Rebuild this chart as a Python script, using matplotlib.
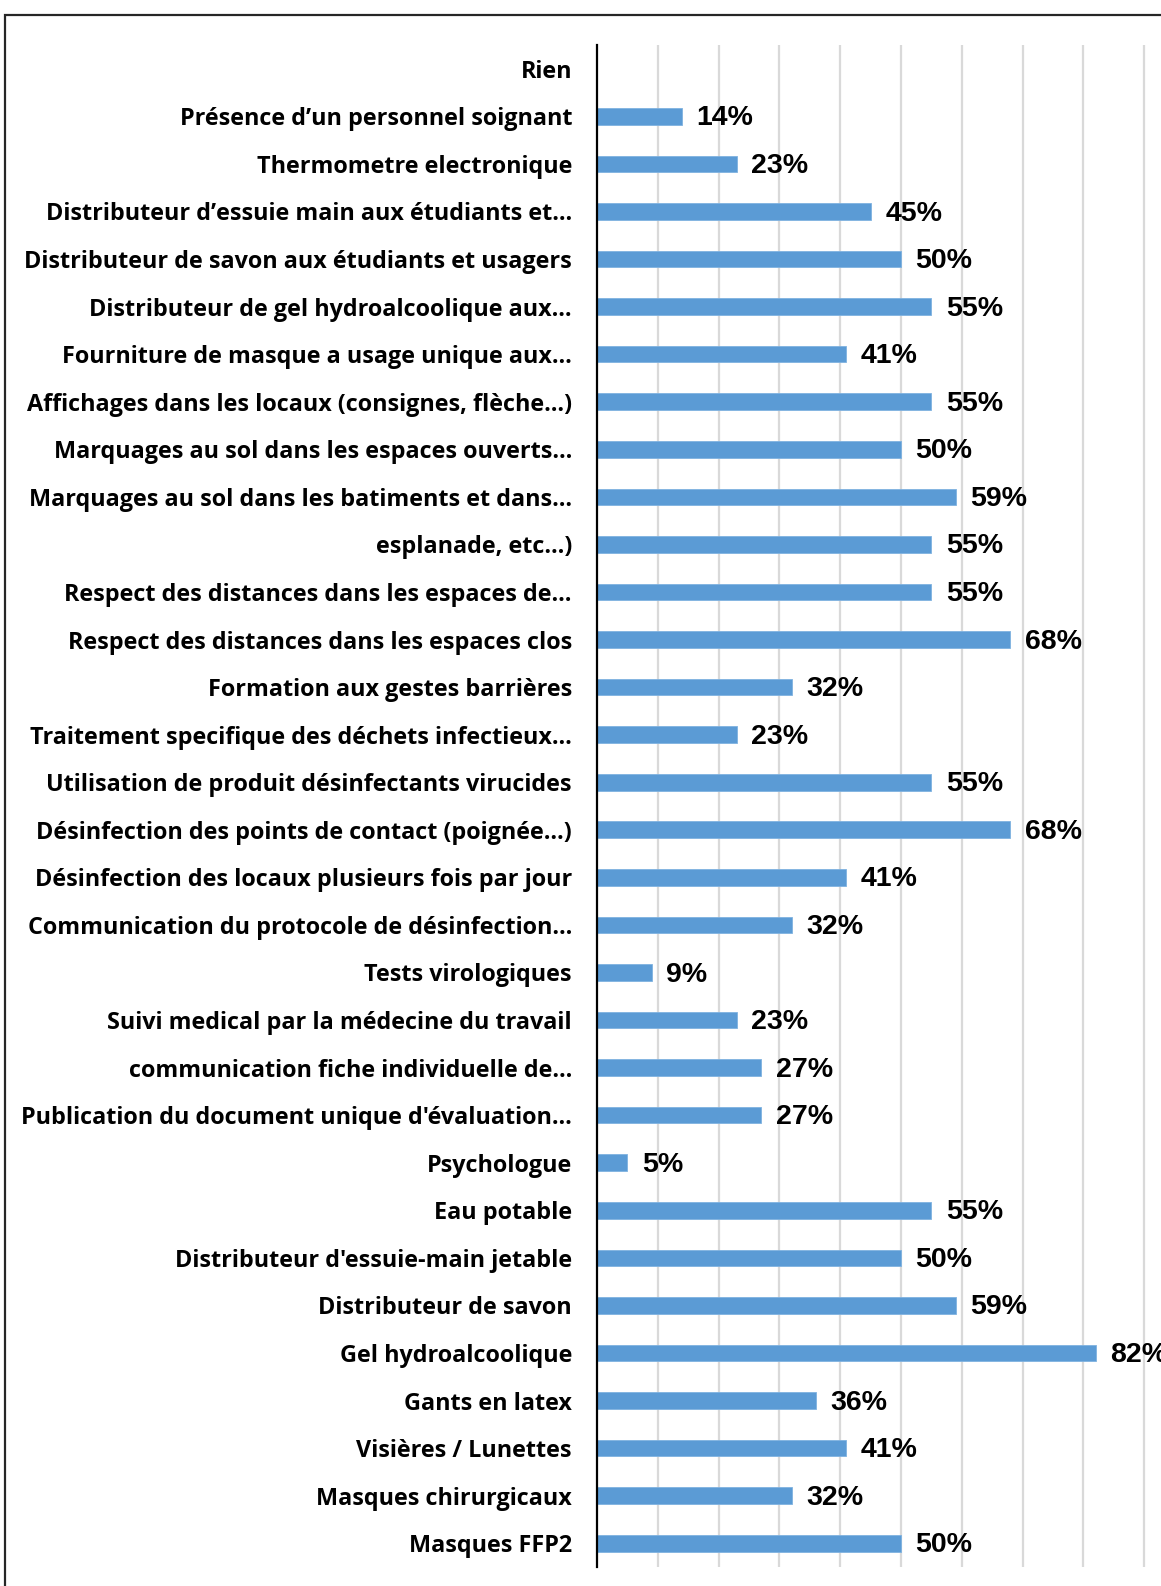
import matplotlib
matplotlib.use("Agg")
import matplotlib.pyplot as plt
from matplotlib.patches import Rectangle
import numpy as np

categories = [
    "Rien",
    "Présence d’un personnel soignant",
    "Thermometre electronique",
    "Distributeur d’essuie main aux étudiants et…",
    "Distributeur de savon aux étudiants et usagers",
    "Distributeur de gel hydroalcoolique aux…",
    "Fourniture de masque a usage unique aux…",
    "Affichages dans les locaux (consignes, flèche…)",
    "Marquages au sol dans les espaces ouverts…",
    "Marquages au sol dans les batiments et dans…",
    "esplanade, etc…)",
    "Respect des distances dans les espaces de…",
    "Respect des distances dans les espaces clos",
    "Formation aux gestes barrières",
    "Traitement specifique des déchets infectieux…",
    "Utilisation de produit désinfectants virucides",
    "Désinfection des points de contact (poignée…)",
    "Désinfection des locaux plusieurs fois par jour",
    "Communication du protocole de désinfection…",
    "Tests virologiques",
    "Suivi medical par la médecine du travail",
    "communication fiche individuelle de…",
    "Publication du document unique d'évaluation…",
    "Psychologue",
    "Eau potable",
    "Distributeur d'essuie-main jetable",
    "Distributeur de savon",
    "Gel hydroalcoolique",
    "Gants en latex",
    "Visières / Lunettes",
    "Masques chirurgicaux",
    "Masques FFP2",
]
values = [0, 14, 23, 45, 50, 55, 41, 55, 50, 59, 55, 55, 68, 32, 23, 55, 68, 41, 32,
          9, 23, 27, 27, 5, 55, 50, 59, 82, 36, 41, 32, 50]

W, H = 1161, 1586
fig = plt.figure(figsize=(W / 100, H / 100), dpi=100)

# outer frame
fig.patches.append(Rectangle((5 / W, -0.05), 1.2, 1 - 15 / H + 0.05,
                             transform=fig.transFigure, fill=False,
                             edgecolor="#262626", linewidth=1.6))

AX_LEFT = 597
PX_PER_PCT = 6.08
ax = fig.add_axes([AX_LEFT / W, 1 - 1567 / H, 1 - AX_LEFT / W, (1567 - 45) / H])
y = np.arange(len(categories))
ax.barh(y, values, height=0.35, color="#5B9BD5", edgecolor="#7FB2E0",
        linewidth=0.6, zorder=3)
ax.set_ylim(len(categories) - 0.5, -0.5)
ax.set_xlim(0, (W - AX_LEFT) / PX_PER_PCT)

ax.set_xticks(np.arange(10, 100, 10))
ax.xaxis.grid(True, color="#D9D9D9", linewidth=1.6, zorder=0)
ax.tick_params(axis="x", length=0, labelbottom=False)
ax.tick_params(axis="y", length=0, pad=18)
ax.set_yticks(y)
ax.set_yticklabels(categories, fontfamily="Open Sans", fontweight="bold", fontsize=16.8)
for s in ["top", "right", "bottom"]:
    ax.spines[s].set_visible(False)
ax.spines["left"].set_linewidth(1.6)
ax.spines["left"].set_color("black")
ax.spines["left"].set_zorder(4)

for yi, v in zip(y, values):
    if v > 0:
        ax.annotate(f"{v}%", xy=(v, yi), xytext=(10.5, -1.5), textcoords="offset points",
                    ha="left", va="center", fontsize=20.5, fontweight="bold",
                    fontfamily="Liberation Sans", color="black",
                    annotation_clip=False)

fig.savefig("out.png", dpi=100)
